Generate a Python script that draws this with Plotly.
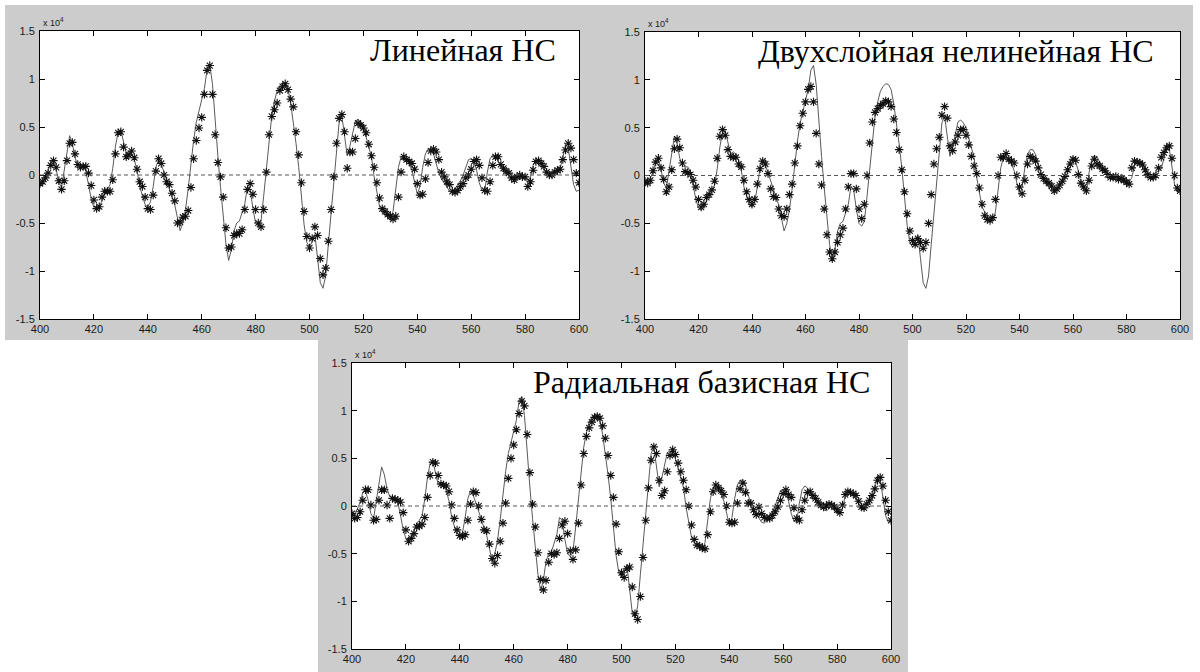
import plotly.graph_objects as go

# ---------------- data (values in units of 1e4) ----------------
x_vals = list(range(400, 601))

signal = [
    -0.09, -0.08, -0.03, 0.04, 0.14, 0.16, 0.06, -0.08, -0.13, 0.05,
    0.28, 0.41, 0.33, 0.18, 0.10, 0.09, 0.09, 0.04, -0.10, -0.25,
    -0.34, -0.36, -0.33, -0.27, -0.18, -0.15, -0.10, 0.07, 0.30, 0.45,
    0.47, 0.36, 0.22, 0.25, 0.22, 0.16, 0.05, -0.12, -0.23, -0.31,
    -0.33, -0.28, -0.12, 0.08, 0.16, 0.11, 0.03, -0.06, -0.16, -0.23,
    -0.31, -0.45, -0.58, -0.50, -0.36, -0.14, 0.12, 0.36, 0.55, 0.66,
    0.79, 0.90, 1.10, 1.15, 0.95, 0.55, 0.20, -0.13, -0.45, -0.72,
    -0.89, -0.78, -0.58, -0.50, -0.48, -0.40, -0.30, -0.12, -0.15, -0.35,
    -0.50, -0.53, -0.48, -0.22, 0.05, 0.38, 0.62, 0.77, 0.88, 0.93,
    0.96, 0.95, 0.90, 0.75, 0.56, 0.33, 0.08, -0.25, -0.52, -0.70,
    -0.75, -0.69, -0.62, -0.87, -1.12, -1.18, -1.05, -0.72, -0.40, -0.05,
    0.30, 0.55, 0.62, 0.42, 0.20, 0.30, 0.45, 0.56, 0.58, 0.55,
    0.50, 0.40, 0.28, 0.19, -0.02, -0.20, -0.33, -0.38, -0.41, -0.45,
    -0.47, -0.38, -0.15, 0.08, 0.19, 0.18, 0.16, 0.12, 0.05, -0.09,
    -0.20, -0.12, 0.08, 0.22, 0.27, 0.27, 0.22, 0.12, 0.02, -0.04,
    -0.08, -0.13, -0.17, -0.18, -0.15, -0.10, -0.06, 0.00, 0.08, 0.16,
    0.17, 0.14, 0.05, -0.08, -0.16, -0.17, 0.03, 0.17, 0.21, 0.19,
    0.14, 0.09, 0.06, 0.03, 0.00, -0.04, -0.05, -0.03, 0.01, 0.00,
    -0.03, -0.07, -0.02, 0.10, 0.16, 0.16, 0.12, 0.07, 0.02, -0.01,
    0.01, 0.03, 0.05, 0.07, 0.18, 0.32, 0.28, 0.08, -0.10, -0.17,
    -0.16,
]

pred_linear = [
    -0.09, -0.07, -0.03, 0.02, 0.10, 0.15, 0.08, -0.06, -0.15, -0.06,
    0.15, 0.33, 0.34, 0.22, 0.11, 0.08, 0.09, 0.09, 0.02, -0.11,
    -0.26, -0.35, -0.33, -0.23, -0.17, -0.17, -0.17, -0.05, 0.22, 0.44,
    0.45, 0.29, 0.19, 0.21, 0.25, 0.18, 0.06, -0.07, -0.12, -0.23,
    -0.35, -0.36, -0.21, 0.04, 0.17, 0.12, 0.00, -0.07, -0.10, -0.19,
    -0.27, -0.50, -0.49, -0.44, -0.43, -0.37, -0.13, 0.17, 0.36, 0.49,
    0.60, 0.84, 1.09, 1.14, 0.84, 0.42, 0.13, -0.02, -0.23, -0.55,
    -0.76, -0.75, -0.63, -0.61, -0.61, -0.57, -0.36, -0.15, -0.09, -0.20,
    -0.36, -0.50, -0.54, -0.36, 0.03, 0.42, 0.61, 0.68, 0.75, 0.88,
    0.92, 0.95, 0.89, 0.79, 0.71, 0.45, 0.21, -0.08, -0.38, -0.64,
    -0.76, -0.66, -0.54, -0.63, -0.87, -1.04, -0.97, -0.69, -0.36, -0.02,
    0.33, 0.59, 0.63, 0.45, 0.07, 0.24, 0.24, 0.38, 0.54, 0.52,
    0.49, 0.44, 0.32, 0.20, 0.08, -0.08, -0.24, -0.35, -0.38, -0.41,
    -0.43, -0.46, -0.43, -0.23, 0.03, 0.19, 0.16, 0.14, 0.12, 0.06,
    -0.09, -0.21, -0.20, -0.04, 0.13, 0.25, 0.27, 0.24, 0.16, 0.03,
    -0.02, -0.07, -0.10, -0.17, -0.18, -0.16, -0.12, -0.09, -0.03, 0.00,
    0.06, 0.14, 0.16, 0.10, -0.03, -0.16, -0.17, -0.07, 0.10, 0.19,
    0.19, 0.11, 0.07, 0.04, 0.02, -0.03, -0.05, -0.02, 0.00, -0.02,
    -0.02, -0.12, -0.07, 0.05, 0.14, 0.15, 0.12, 0.09, 0.03, 0.00,
    0.00, 0.03, 0.05, 0.06, 0.16, 0.26, 0.33, 0.28, 0.16, 0.02,
    -0.08,
]

pred_mlp = [
    -0.06, -0.08, -0.05, 0.05, 0.14, 0.18, 0.08, -0.04, -0.17, -0.12,
    0.06, 0.28, 0.38, 0.29, 0.13, 0.04, 0.03, 0.01, -0.05, -0.12,
    -0.25, -0.33, -0.30, -0.23, -0.20, -0.15, -0.06, 0.18, 0.41, 0.48,
    0.42, 0.27, 0.20, 0.19, 0.19, 0.12, 0.09, -0.05, -0.17, -0.25,
    -0.30, -0.25, -0.09, 0.07, 0.15, 0.12, 0.02, -0.14, -0.22, -0.23,
    -0.35, -0.42, -0.43, -0.35, -0.20, -0.09, 0.13, 0.31, 0.52, 0.65,
    0.77, 0.90, 0.93, 0.77, 0.44, 0.12, -0.10, -0.35, -0.62, -0.80,
    -0.87, -0.80, -0.70, -0.62, -0.55, -0.35, -0.12, 0.02, 0.02, -0.14,
    -0.35, -0.45, -0.30, 0.00, 0.34, 0.56, 0.66, 0.70, 0.73, 0.75,
    0.78, 0.77, 0.72, 0.59, 0.45, 0.27, 0.06, -0.17, -0.40, -0.58,
    -0.68, -0.72, -0.66, -0.70, -0.76, -0.70, -0.50, -0.20, 0.12, 0.28,
    0.40, 0.63, 0.72, 0.60, 0.31, 0.26, 0.35, 0.42, 0.48, 0.48,
    0.42, 0.32, 0.20, 0.10, 0.02, -0.13, -0.30, -0.42, -0.46, -0.47,
    -0.44, -0.25, 0.00, 0.19, 0.19, 0.23, 0.17, 0.15, 0.13, 0.00,
    -0.12, -0.19, -0.05, 0.12, 0.20, 0.18, 0.15, 0.08, 0.01, -0.03,
    -0.06, -0.08, -0.11, -0.16, -0.14, -0.10, -0.06, -0.01, 0.06, 0.12,
    0.17, 0.16, 0.01, -0.08, -0.12, -0.16, -0.05, 0.10, 0.17, 0.12,
    0.10, 0.07, 0.05, 0.01, -0.02, -0.02, -0.01, -0.04, -0.03, -0.05,
    -0.07, -0.09, 0.08, 0.15, 0.14, 0.13, 0.11, 0.06, 0.01, -0.02,
    -0.02, 0.00, 0.08, 0.19, 0.24, 0.29, 0.31, 0.18, 0.00, -0.13,
    -0.16,
]

pred_rbf = [
    -0.08, -0.13, -0.12, -0.06, 0.06, 0.17, 0.17, 0.01, -0.15, -0.14,
    0.06, 0.17, 0.17, 0.01, -0.13, 0.08, 0.07, 0.06, 0.04, -0.07,
    -0.25, -0.37, -0.34, -0.29, -0.22, -0.21, -0.19, -0.12, 0.09, 0.32,
    0.46, 0.45, 0.32, 0.23, 0.22, 0.21, 0.15, 0.01, -0.13, -0.25,
    -0.31, -0.32, -0.30, -0.15, 0.02, 0.15, 0.14, 0.00, -0.14, -0.25,
    -0.26, -0.40, -0.55, -0.60, -0.52, -0.37, -0.18, 0.03, 0.29, 0.50,
    0.64, 0.80, 0.97, 1.10, 1.05, 0.75, 0.35, 0.02, -0.22, -0.49,
    -0.77, -0.88, -0.78, -0.59, -0.50, -0.51, -0.49, -0.34, -0.20, -0.16,
    -0.29, -0.47, -0.56, -0.46, -0.18, 0.22, 0.55, 0.73, 0.82, 0.88,
    0.93, 0.94, 0.92, 0.84, 0.71, 0.53, 0.32, 0.09, -0.19, -0.48,
    -0.70, -0.75, -0.66, -0.64, -0.85, -1.13, -1.19, -0.95, -0.54, -0.15,
    0.19, 0.48, 0.62, 0.55, 0.27, 0.11, 0.16, 0.36, 0.53, 0.59,
    0.54, 0.45, 0.36, 0.27, 0.17, 0.00, -0.20, -0.35, -0.41, -0.42,
    -0.44, -0.45, -0.30, -0.06, 0.15, 0.22, 0.19, 0.16, 0.12, 0.00,
    -0.17, -0.18, -0.17, 0.03, 0.18, 0.24, 0.14, 0.03, 0.03, -0.04,
    -0.09, -0.01, -0.08, -0.12, -0.13, -0.13, -0.10, -0.06, -0.01, 0.06,
    0.13, 0.17, 0.12, 0.09, -0.02, -0.13, -0.15, -0.04, 0.06, 0.14,
    0.15, 0.11, 0.08, 0.04, 0.01, -0.01, 0.00, 0.02, 0.01, -0.01,
    -0.04, -0.07, 0.01, 0.12, 0.15, 0.14, 0.13, 0.11, 0.05, -0.01,
    -0.02, 0.02, 0.06, 0.11, 0.18, 0.27, 0.30, 0.21, 0.06, -0.06,
    -0.15,
]

panel_titles = ["Линейная НС", "Двухслойная нелинейная НС", "Радиальная базисная НС"]
x_ticks = [400, 420, 440, 460, 480, 500, 520, 540, 560, 580, 600]
y_ticks = [-1.5, -1, -0.5, 0, 0.5, 1, 1.5]
y_tick_text = ["-1.5", "-1", "-0.5", "0", "0.5", "1", "1.5"]

# ---------------- layout helpers ----------------
W, H = 1200, 672
def px(x):
    return x / W
def py(y):
    return 1 - y / H

# plot areas in pixels: (left, top, right, bottom)
areas = [(40, 31, 579, 319), (645, 32, 1180, 319), (352, 363, 891, 649)]
# grey figure panels in pixels
panels = [(5, 5, 598, 340), (598, 5, 1193, 340), (318, 340, 908, 672)]
# right inset of the title text inside each plot area (pixels)
title_inset = [21, 24, 19]
preds = [pred_linear, pred_mlp, pred_rbf]

fig = go.Figure()
GREY = "#cccccc"
tick_font = dict(family="Liberation Sans, Arial, sans-serif", size=11, color="#1a1a1a")

shapes = []
for (l, t, r, b) in panels:
    shapes.append(dict(type="rect", xref="paper", yref="paper", layer="below",
                       x0=px(l), x1=px(r), y0=py(b), y1=py(t),
                       fillcolor=GREY, line=dict(width=0)))
for (l, t, r, b) in areas:
    shapes.append(dict(type="rect", xref="paper", yref="paper", layer="below",
                       x0=px(l), x1=px(r), y0=py(b), y1=py(t),
                       fillcolor="white", line=dict(width=0)))

annotations = []
layout_axes = {}
for i, ((l, t, r, b), pred, title, ins) in enumerate(zip(areas, preds, panel_titles, title_inset)):
    n = "" if i == 0 else str(i + 1)
    xa, ya = "x" + n, "y" + n
    fig.add_trace(go.Scatter(x=x_vals, y=signal, mode="lines", xaxis=xa, yaxis=ya,
                             line=dict(color="#5a5a5a", width=1), showlegend=False,
                             hoverinfo="skip"))
    fig.add_trace(go.Scatter(x=x_vals, y=pred, mode="markers", xaxis=xa, yaxis=ya,
                             marker=dict(symbol="asterisk-open", size=7, color="#111111",
                                         line=dict(color="#111111", width=1.1)),
                             showlegend=False))
    # zero reference line (dashed)
    shapes.append(dict(type="line", xref=xa, yref=ya, x0=400, x1=600, y0=0, y1=0,
                       line=dict(color="#555555", width=1, dash="4px,3px"), layer="above"))
    layout_axes["xaxis" + n] = dict(
        domain=[px(l), px(r)], anchor=ya, range=[400, 600], tickvals=x_ticks,
        ticks="inside", ticklen=5, tickcolor="black", showline=True, linecolor="black",
        linewidth=1, mirror="ticks", showgrid=False, zeroline=False, tickfont=tick_font,
        ticklabelstandoff=0, automargin=False)
    layout_axes["yaxis" + n] = dict(
        domain=[py(b), py(t)], anchor=xa, range=[-1.5, 1.5], tickvals=y_ticks,
        ticktext=y_tick_text, ticks="inside", ticklen=5, tickcolor="black", showline=True,
        linecolor="black", linewidth=1, mirror="ticks", showgrid=False, zeroline=False,
        tickfont=tick_font, ticklabelstandoff=2, automargin=False)
    annotations.append(dict(xref="paper", yref="paper", x=px(l + 1), y=py(t - 1),
                            xanchor="left", yanchor="bottom", showarrow=False,
                            text="x 10<sup>4</sup>",
                            font=dict(family="Liberation Sans, Arial, sans-serif", size=9,
                                      color="#1a1a1a")))
    annotations.append(dict(xref="paper", yref="paper", x=px(r - ins), y=py(t - 1),
                            xanchor="right", yanchor="top", showarrow=False, text=title,
                            font=dict(family="Liberation Serif, Times New Roman, serif",
                                      size=32, color="black")))

fig.update_layout(width=W, height=H, margin=dict(l=0, r=0, t=0, b=0, pad=0),
                  paper_bgcolor="white", plot_bgcolor="white", template="none",
                  shapes=shapes, annotations=annotations, **layout_axes)

fig.write_html("out.html", config={"displayModeBar": False},
               post_script="document.body.style.margin='0';document.body.style.padding='0';")
